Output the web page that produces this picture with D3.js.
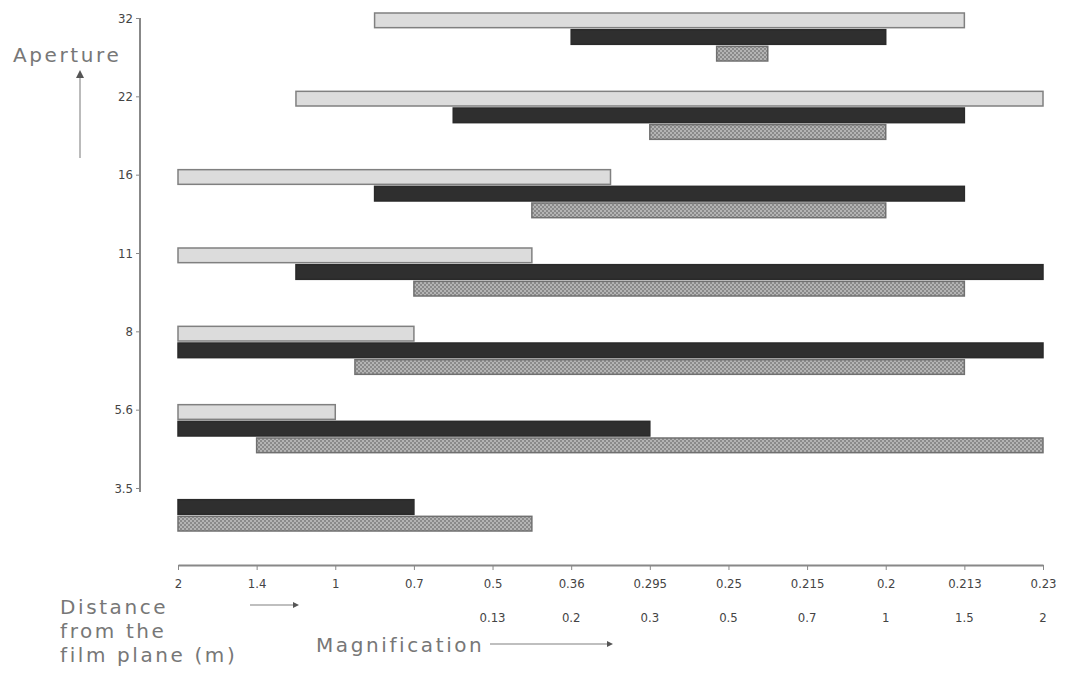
<!DOCTYPE html>
<html><head><meta charset="utf-8">
<script src="https://cdn.jsdelivr.net/npm/d3@7"></script>
<style>
html,body{margin:0;padding:0;background:#fff;}
svg{display:block;}
</style>
</head><body>
<svg id="chart" width="1068" height="676"></svg>
<script>
// ---- data ----
const apertures = ["32", "22", "16", "11", "8", "5.6", "3.5"];
const distanceLabels = ["2", "1.4", "1", "0.7", "0.5", "0.36", "0.295", "0.25", "0.215", "0.2", "0.213", "0.23"];
const magnificationLabels = ["", "", "", "", "0.13", "0.2", "0.3", "0.5", "0.7", "1", "1.5", "2"];
const seriesNames = ["light", "dark", "medium"];
// ranges in axis-position units (0 = first tick "2", 11 = last tick)
const lightStart  = [2.5, 1.5, 0,   0,   0,    0,   null];
const lightEnd    = [10,  11,  5.5, 4.5, 3,    2,   null];
const darkStart   = [5,   3.5, 2.5, 1.5, 0,    0,   0];
const darkEnd     = [9,   10,  10,  11,  11,   6,   3];
const mediumStart = [6.85, 6,  4.5, 3,   2.25, 1,   0];
const mediumEnd   = [7.5,  9,  9,   10,  10,   11,  4.5];

// ---- chart ----
const svg = d3.select("#chart");
const defs = svg.append("defs");
const pat = defs.append("pattern").attr("id", "checker")
  .attr("width", 4).attr("height", 4).attr("patternUnits", "userSpaceOnUse");
pat.append("rect").attr("width", 4).attr("height", 4).attr("fill", "#b4b4b4");
pat.append("rect").attr("width", 2).attr("height", 2).attr("fill", "#8a8a8a");
pat.append("rect").attr("x", 2).attr("y", 2).attr("width", 2).attr("height", 2).attr("fill", "#8a8a8a");

const x = d3.scaleLinear().domain([0, distanceLabels.length - 1]).range([178, 1043]);
const y = d3.scalePoint().domain(apertures).range([18, 488]);
const sub = d3.scaleBand().domain(seriesNames).range([-5, 43]).paddingInner(0.12);

const tickFont = "'Liberation Sans Narrow','DejaVu Sans Condensed',sans-serif";
const labelFont = "'DejaVu Sans','Liberation Sans',sans-serif";

// y axis
const yAxis = svg.append("g").attr("transform", "translate(140,0)")
  .call(d3.axisLeft(y).tickSize(4).tickPadding(3));
yAxis.select(".domain").attr("stroke", "#888").attr("stroke-width", 2)
  .attr("d", "M0,18V492");
yAxis.selectAll(".tick line").attr("stroke", "#888");
yAxis.selectAll(".tick text").attr("font-family", tickFont).attr("font-size", 13)
  .attr("fill", "#444").attr("dy", "0.32em");

// x axis
const xAxis = svg.append("g").attr("transform", "translate(0,565)")
  .call(d3.axisBottom(x).tickValues(d3.range(distanceLabels.length))
    .tickFormat(i => distanceLabels[i]).tickSize(5).tickPadding(9).tickSizeOuter(0));
xAxis.select(".domain").attr("stroke", "#888").attr("stroke-width", 2);
xAxis.selectAll(".tick line").attr("stroke", "#888");
xAxis.selectAll(".tick text").attr("font-family", tickFont).attr("font-size", 13)
  .attr("fill", "#444");
// magnification row
svg.append("g").selectAll("text").data(magnificationLabels.map((t, i) => ({t, i})).filter(d => d.t))
  .join("text")
  .attr("x", d => x(d.i)).attr("y", 622)
  .attr("text-anchor", "middle")
  .attr("font-family", tickFont).attr("font-size", 13).attr("fill", "#444")
  .text(d => d.t);

// bars
const styles = {
  light:  {fill: "#dcdcdc", stroke: "#808080", start: lightStart, end: lightEnd},
  dark:   {fill: "#2f2f2f", stroke: "#2a2a2a", start: darkStart, end: darkEnd},
  medium: {fill: "url(#checker)", stroke: "#707070", start: mediumStart, end: mediumEnd}
};
seriesNames.forEach(s => {
  const st = styles[s];
  const data = apertures.map((a, i) => ({a, s0: st.start[i], s1: st.end[i]})).filter(d => d.s0 != null);
  svg.append("g").selectAll("rect").data(data).join("rect")
    .attr("x", d => x(d.s0))
    .attr("y", d => y(d.a) + sub(s))
    .attr("width", d => x(d.s1) - x(d.s0))
    .attr("height", sub.bandwidth())
    .attr("fill", st.fill)
    .attr("stroke", st.stroke)
    .attr("stroke-width", 1.5);
});

// annotations
defs.append("marker").attr("id", "arrow").attr("viewBox", "0 0 10 10")
  .attr("refX", 5).attr("refY", 5).attr("markerWidth", 4).attr("markerHeight", 4)
  .attr("orient", "auto")
  .append("path").attr("d", "M0,0L10,5L0,10Z").attr("fill", "#555");

const lab = sel => sel.attr("font-family", labelFont).attr("font-size", 20)
  .attr("letter-spacing", 2.6).attr("fill", "#777");

svg.append("text").attr("x", 13).attr("y", 62).call(lab).text("Aperture");
svg.append("line").attr("x1", 80).attr("y1", 158).attr("x2", 80).attr("y2", 74)
  .attr("stroke", "#bbb").attr("stroke-width", 2).attr("marker-end", "url(#arrow)");

const dist = svg.append("text").call(lab);
["Distance", "from the", "film plane (m)"].forEach((t, i) =>
  dist.append("tspan").attr("x", 60).attr("y", 614 + i * 24).text(t));
svg.append("line").attr("x1", 250).attr("y1", 605).attr("x2", 296).attr("y2", 605)
  .attr("stroke", "#aaa").attr("stroke-width", 1.5).attr("marker-end", "url(#arrow)");

svg.append("text").attr("x", 316).attr("y", 652).call(lab).text("Magnification");
svg.append("line").attr("x1", 490).attr("y1", 644).attr("x2", 610).attr("y2", 644)
  .attr("stroke", "#aaa").attr("stroke-width", 1.5).attr("marker-end", "url(#arrow)");
</script>
</body></html>
